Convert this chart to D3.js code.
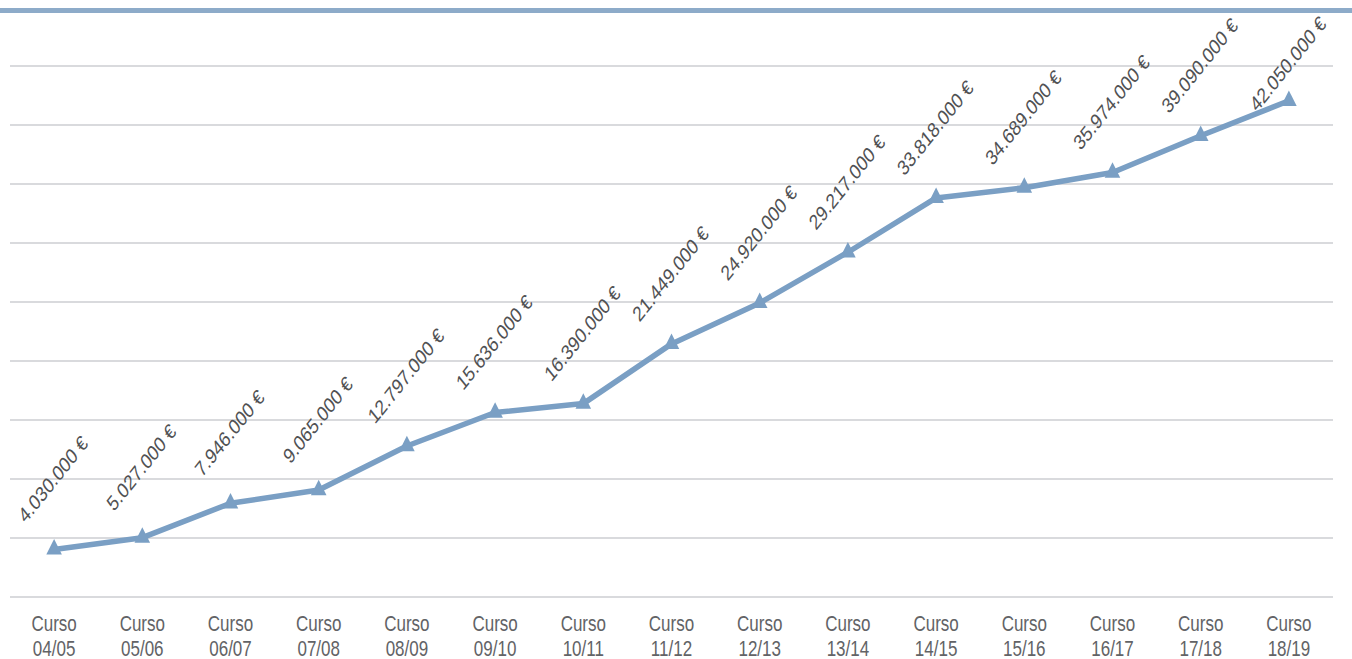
<!DOCTYPE html>
<html><head><meta charset="utf-8">
<script src="https://cdn.jsdelivr.net/npm/d3@7"></script>
<style>
html,body{margin:0;padding:0;background:#fff;}
svg{display:block;}
text{font-family:"Liberation Sans",Arial,sans-serif;}
</style></head>
<body>
<svg id="chart" width="1352" height="659"></svg>
<script>
const cursoLine1 = ["Curso","Curso","Curso","Curso","Curso","Curso","Curso","Curso","Curso","Curso","Curso","Curso","Curso","Curso","Curso"];
const cursoLine2 = ["04/05","05/06","06/07","07/08","08/09","09/10","10/11","11/12","12/13","13/14","14/15","15/16","16/17","17/18","18/19"];
const values = [4030000,5027000,7946000,9065000,12797000,15636000,16390000,21449000,24920000,29217000,33818000,34689000,35974000,39090000,42050000];
const yTicks = [0,5000000,10000000,15000000,20000000,25000000,30000000,35000000,40000000,45000000];

const svg = d3.select("#chart");
const W = 1352, H = 659;
const mLeft = 10, mRight = 1333, mTop = 66, mBottom = 597;
const stretch = 1.25;

const x = d3.scaleBand().domain(cursoLine2).range([mLeft, mRight]).padding(0);
const y = d3.scaleLinear().domain([0, 45000000]).range([mBottom, mTop]);
const cx = d => x(d) + x.bandwidth()/2;

// top decorative band
svg.append("line").attr("x1",0).attr("x2",W).attr("y1",10.5).attr("y2",10.5)
  .attr("stroke","#8dabc9").attr("stroke-width",5);

// gridlines
svg.append("g").selectAll("line").data(yTicks).join("line")
  .attr("x1",mLeft).attr("x2",mRight)
  .attr("y1",d=>y(d)).attr("y2",d=>y(d))
  .attr("stroke","#d9dadd").attr("stroke-width",2);

// x axis labels
const xg = svg.append("g").selectAll("g").data(cursoLine2).join("g");
xg.append("text")
  .attr("transform",d=>`translate(${cx(d)},631) scale(1,${stretch})`)
  .attr("text-anchor","middle").attr("fill","#626366").attr("font-size",17)
  .text((d,i)=>cursoLine1[i]);
xg.append("text")
  .attr("transform",d=>`translate(${cx(d)},656) scale(1,${stretch})`)
  .attr("text-anchor","middle").attr("fill","#626366").attr("font-size",17)
  .text(d=>d);

// line
const line = d3.line().x((d,i)=>cx(cursoLine2[i])).y(d=>y(d));
svg.append("path").datum(values).attr("d",line)
  .attr("fill","none").attr("stroke","#7a9fc4").attr("stroke-width",5.5)
  .attr("stroke-linejoin","round");

// markers
const tri = d3.symbol().type(d3.symbolTriangle).size(105);
svg.append("g").selectAll("path").data(values).join("path")
  .attr("d",tri)
  .attr("transform",(d,i)=>`translate(${cx(cursoLine2[i])},${y(d)}) scale(1,1.15)`)
  .attr("fill","#7a9fc4");

// data labels
const fmt = v => d3.format(",")(v).replace(/,/g,".") + " €";
svg.append("g").selectAll("text").data(values).join("text")
  .attr("transform",(d,i)=>{
    const px = cx(cursoLine2[i]);
    const py = Math.max(y(d)-69, 65);
    return `translate(${px},${py}) scale(1,${stretch}) rotate(-45)`;
  })
  .attr("text-anchor","middle").attr("dominant-baseline","middle")
  .attr("fill","#505153").attr("font-size",17)
  .text(d=>fmt(d));
</script>
</body></html>
